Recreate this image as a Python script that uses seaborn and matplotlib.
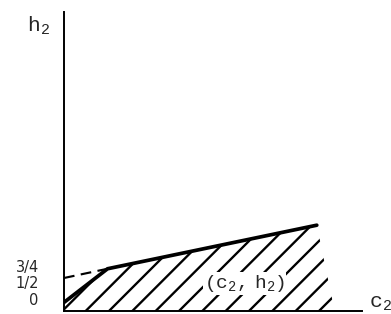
import matplotlib
matplotlib.use("Agg")
import matplotlib.pyplot as plt
import pandas as pd
import seaborn as sns

# ── data (1 unit ≈ 66 px) ─────────────────────────────────────────────────────
boundary_c2 = [0.0, 0.66, 3.83]          # solid upper boundary
boundary_h2 = [0.13, 0.64, 1.30]
dashed_c2 = [0.0, 0.66]                  # dashed extension to h2 axis
dashed_h2 = [0.50, 0.64]
region_c2 = [0.0, 0.0, 0.66, 3.83, 4.10] # hatched region outline
region_h2 = [0.0, 0.13, 0.64, 1.30, 0.0]

ytick_pos = [0.68, 0.44, 0.18]
ytick_labels = ["3/4", "1/2", "0"]

# ── style ─────────────────────────────────────────────────────────────────────
sns.set_style("white")
plt.rcParams["font.family"] = ["DejaVu Sans"]
plt.rcParams["mathtext.fontset"] = "custom"
plt.rcParams["mathtext.rm"] = "Liberation Mono"
plt.rcParams["mathtext.it"] = "Liberation Mono"
plt.rcParams["hatch.linewidth"] = 1.2

DPI = 140
fig = plt.figure(figsize=(391 / DPI, 314 / DPI), dpi=DPI)
ax = fig.add_axes([64 / 391, 3 / 314, 298 / 391, 299 / 314])

# hatched region
ax.fill(region_c2, region_h2, facecolor="none", edgecolor="black",
        linewidth=0, hatch="//")

# boundary lines
df = pd.DataFrame({"c2": boundary_c2, "h2": boundary_h2})
sns.lineplot(data=df, x="c2", y="h2", sort=False, color="black", lw=1.9, ax=ax)
dd = pd.DataFrame({"c2": dashed_c2, "h2": dashed_h2})
sns.lineplot(data=dd, x="c2", y="h2", sort=False, color="black", lw=1.1,
             linestyle=(0, (5, 3)), ax=ax)

ax.set_xlim(0, 4.515)
ax.set_ylim(0, 4.53)
ax.set_xlabel("")
ax.set_ylabel("")
ax.set_xticks([])
ax.set_yticks(ytick_pos)
ax.set_yticklabels(ytick_labels, fontsize=7.5)
ax.tick_params(axis="y", length=0, pad=13)

sns.despine(ax=ax)
for s in ("left", "bottom"):
    ax.spines[s].set_linewidth(1.0)
    ax.spines[s].set_color("black")

# axis names and region label
ax.text(-0.39, 4.32, r"$\mathrm{h}_{\mathrm{2}}$", fontsize=11,
        ha="center", va="center", clip_on=False)
ax.text(4.80, 0.12, r"$\mathrm{c}_{\mathrm{2}}$", fontsize=11,
        ha="center", va="center", clip_on=False)
ax.text(2.73, 0.41, r"$(\mathrm{c}_{\mathrm{2}},\ \mathrm{h}_{\mathrm{2}})$",
        fontsize=10, ha="center", va="center",
        bbox=dict(facecolor="white", edgecolor="none", pad=0.5))

fig.savefig("out.png", dpi=DPI)
